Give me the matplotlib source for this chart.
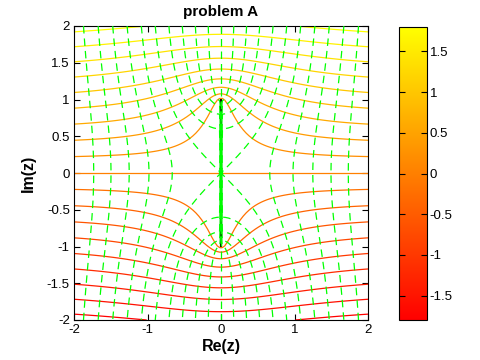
import numpy as np
import matplotlib
matplotlib.use("Agg")
import matplotlib.pyplot as plt
from matplotlib.colors import Normalize
from matplotlib.cm import ScalarMappable

plt.rcParams['font.family'] = ['Liberation Sans', 'DejaVu Sans']
plt.rcParams['axes.unicode_minus'] = False

# levels of the two families of curves
im_levels = [-1.8, -1.6, -1.4, -1.2, -1.0, -0.8, -0.6, -0.4, -0.2, 0.0,
             0.2, 0.4, 0.6, 0.8, 1.0, 1.2, 1.4, 1.6, 1.8]
re_levels = [-2.0, -1.8, -1.6, -1.4, -1.2, -1.0, -0.8, -0.6, -0.4, -0.2, 0.0,
             0.2, 0.4, 0.6, 0.8, 1.0, 1.2, 1.4, 1.6, 1.8, 2.0]
cut_y = [-1.0, 1.0]  # branch cut between -i and i
clim = [-1.8, 1.8]

xticks = [-2, -1, 0, 1, 2]
yticks = [-2, -1.5, -1, -0.5, 0, 0.5, 1, 1.5, 2]
yticklabels = ['-2', '-1.5', '-1', '-0.5', '0', '0.5', '1', '1.5', '2']
cbticks = [-1.5, -1, -0.5, 0, 0.5, 1, 1.5]
cblabels = ['-1.5', '-1', '-0.5', '0', '0.5', '1', '1.5']

# w = sqrt(z^2 + 1) with the cut on [-i, i]
x = np.linspace(-2, 2, 100)
X, Y = np.meshgrid(x, x)
Z = X + 1j * Y
W = Z * np.sqrt(1 + 1 / Z**2)

fig = plt.figure(figsize=(4.8, 3.6), dpi=100)
ax = fig.add_axes([74 / 480, 40 / 360, 294 / 480, 294 / 360])

ax.plot([0, 0], cut_y, color='k', lw=1.6, zorder=1)
norm = Normalize(clim[0], clim[1])
ax.contour(X, Y, W.imag, levels=im_levels, cmap='autumn', norm=norm,
           linewidths=0.9, zorder=2)
ax.contour(X, Y, W.real, levels=re_levels, colors=[(0, 1, 0)],
           linewidths=0.9, linestyles=[(0, (6, 4))], zorder=3)

ax.set_xlim(-2, 2)
ax.set_ylim(-2, 2)
ax.set_xticks(xticks)
ax.set_xticklabels([str(t) for t in xticks])
ax.set_yticks(yticks)
ax.set_yticklabels(yticklabels)
ax.tick_params(direction='in', top=True, right=True, length=4, width=0.8,
               labelsize=9.5, pad=3)
for s in ax.spines.values():
    s.set_linewidth(0.8)
ax.set_xlabel('Re(z)', fontsize=11.5, fontweight='bold', labelpad=2)
ax.set_ylabel('Im(z)', fontsize=11.5, fontweight='bold', labelpad=8)
ax.set_title('problem A', fontsize=11, fontweight='bold', pad=7)

cax = fig.add_axes([399 / 480, 40 / 360, 28 / 480, 293 / 360])
cb = fig.colorbar(ScalarMappable(norm=norm, cmap='autumn'), cax=cax)
cb.set_ticks(cbticks)
cb.set_ticklabels(cblabels)
cb.outline.set_linewidth(0.8)
cax.tick_params(direction='in', left=True, right=True, length=4, width=0.8,
                labelsize=9.5, pad=2)

fig.savefig('out.png', dpi=100)
